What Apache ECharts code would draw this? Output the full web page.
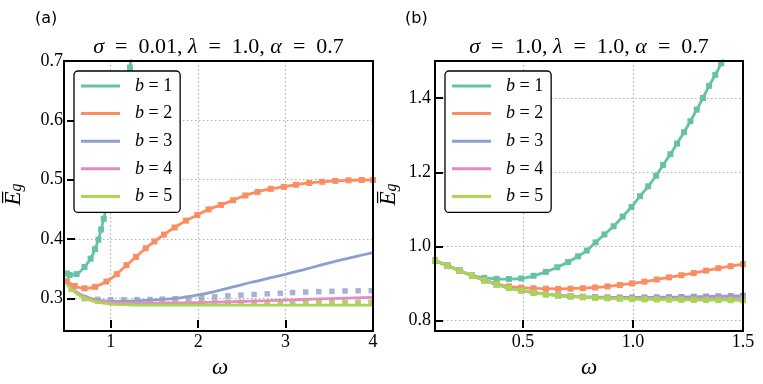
<!DOCTYPE html>
<html>
<head>
<meta charset="utf-8">
<script src="https://cdn.jsdelivr.net/npm/echarts@6/dist/echarts.min.js"></script>
<style>
    html, body {margin: 0; background: #fff;}
    #chart {width: 763px; height: 384px;}
</style>
</head>
<body>
<div id="chart"></div>
<script>
/*panel (a): sigma = 0.01, theory curves on a common omega grid*/
let omegaA = [0.5, 0.55, 0.6, 0.65, 0.7, 0.8, 0.9, 1.0, 1.2, 1.4, 1.6, 1.8, 2.0, 2.2, 2.4, 2.6, 2.8, 3.0, 3.2, 3.4, 3.6, 3.8, 4.0];
let b3LineA = [0.326, 0.3185, 0.312, 0.307, 0.3035, 0.299, 0.2963, 0.2950, 0.2955, 0.2968, 0.2985, 0.3010, 0.3058, 0.3120, 0.3193, 0.3268, 0.3337, 0.3405, 0.3482, 0.3560, 0.3635, 0.3705, 0.3772];
let b4LineA = [0.325, 0.3175, 0.311, 0.306, 0.3025, 0.2975, 0.2948, 0.2935, 0.2925, 0.2922, 0.2923, 0.2925, 0.2929, 0.2936, 0.2944, 0.2953, 0.2962, 0.2972, 0.2982, 0.2992, 0.3002, 0.3010, 0.3017];
let b5LineA = [0.323, 0.316, 0.3095, 0.3045, 0.301, 0.2955, 0.2925, 0.2905, 0.2893, 0.2888, 0.2886, 0.2886, 0.2886, 0.2886, 0.2886, 0.2886, 0.2886, 0.2886, 0.2886, 0.2886, 0.2886, 0.2886, 0.2886];

/*panel (a): simulation markers*/
let markOmegaA = [0.55, 0.70, 0.85, 1.00, 1.15, 1.30, 1.45, 1.59, 1.74, 1.89, 2.04, 2.19, 2.34, 2.49, 2.64, 2.79, 2.94, 3.08, 3.23, 3.38, 3.53, 3.68, 3.83, 3.98];
let b3SimA = [0.317, 0.3015, 0.2985, 0.2978, 0.2978, 0.2980, 0.2983, 0.2988, 0.2995, 0.3003, 0.3015, 0.3028, 0.3043, 0.3055, 0.3067, 0.3078, 0.3088, 0.3098, 0.3107, 0.3114, 0.3120, 0.3125, 0.3128, 0.3130];
let b4SimA = [0.316, 0.300, 0.2955, 0.2942, 0.2937, 0.2935, 0.2935, 0.2935, 0.2935, 0.2935, 0.2935, 0.2935, 0.2935, 0.2935, 0.2935, 0.2935, 0.2935, 0.2935, 0.2935, 0.2935, 0.2935, 0.2935, 0.2935, 0.2935];
let b5SimA = [0.315, 0.2995, 0.295, 0.2938, 0.2934, 0.2932, 0.2932, 0.2932, 0.2932, 0.2932, 0.2932, 0.2932, 0.2932, 0.2932, 0.2932, 0.2932, 0.2932, 0.2932, 0.2932, 0.2932, 0.2932, 0.2932, 0.2932, 0.2932];

/*panel (a): b = 1, 2 (markers sit on the curve)*/
let b1OmegaA = [0.5, 0.53, 0.61, 0.70, 0.77, 0.82, 0.86, 0.89, 0.92, 0.945, 0.97, 0.995, 1.02, 1.045, 1.07, 1.095, 1.12, 1.145, 1.17, 1.195, 1.22, 1.245, 1.27];
let b1A = [0.342, 0.3395, 0.341, 0.353, 0.367, 0.383, 0.399, 0.416, 0.434, 0.450, 0.467, 0.485, 0.503, 0.523, 0.544, 0.566, 0.589, 0.613, 0.638, 0.663, 0.689, 0.716, 0.744];
let b2OmegaA = [0.5, 0.59, 0.70, 0.82, 0.95, 1.07, 1.18, 1.29, 1.40, 1.50, 1.61, 1.73, 1.86, 1.99, 2.12, 2.26, 2.40, 2.54, 2.68, 2.83, 2.98, 3.12, 3.27, 3.42, 3.57, 3.72, 3.87, 4.0];
let b2A = [0.329, 0.321, 0.317, 0.3195, 0.3285, 0.341, 0.356, 0.370, 0.3845, 0.396, 0.4075, 0.4195, 0.431, 0.4405, 0.450, 0.4575, 0.4655, 0.4735, 0.4795, 0.4845, 0.488, 0.4915, 0.4945, 0.4965, 0.498, 0.499, 0.4995, 0.4995];

/*panel (b): sigma = 1.0*/
let omegaB = [0.100, 0.156, 0.212, 0.268, 0.324, 0.380, 0.436, 0.492, 0.548, 0.604, 0.660, 0.716, 0.772, 0.828, 0.884, 0.940, 0.996, 1.052, 1.108, 1.164, 1.220, 1.276, 1.332, 1.388, 1.444, 1.500];
let b2B = [0.962, 0.9485, 0.935, 0.9215, 0.9095, 0.8995, 0.8925, 0.889, 0.8875, 0.8862, 0.8858, 0.8862, 0.8875, 0.8895, 0.8925, 0.8963, 0.9005, 0.9052, 0.9110, 0.9168, 0.9225, 0.9285, 0.9350, 0.9415, 0.9470, 0.9525];
let b3B = [0.962, 0.9485, 0.935, 0.921, 0.9085, 0.8975, 0.888, 0.8817, 0.8760, 0.8716, 0.8685, 0.8663, 0.8647, 0.8636, 0.8629, 0.8626, 0.8625, 0.8627, 0.8630, 0.8635, 0.8640, 0.8645, 0.8651, 0.8657, 0.8663, 0.8670];
let b4B = [0.962, 0.9485, 0.935, 0.921, 0.9085, 0.8975, 0.888, 0.8815, 0.8755, 0.8710, 0.8678, 0.8655, 0.8637, 0.8622, 0.8610, 0.8602, 0.8597, 0.8593, 0.8591, 0.8590, 0.8590, 0.8590, 0.8590, 0.8591, 0.8592, 0.8594];
let b5B = [0.962, 0.9485, 0.935, 0.921, 0.9085, 0.8975, 0.888, 0.8815, 0.8755, 0.8708, 0.8675, 0.8650, 0.8630, 0.8613, 0.8600, 0.8590, 0.8582, 0.8575, 0.8570, 0.8565, 0.8561, 0.8558, 0.8555, 0.8553, 0.8551, 0.8550];
let b1OmegaB = [0.100, 0.156, 0.212, 0.268, 0.324, 0.380, 0.436, 0.492, 0.548, 0.604, 0.656, 0.705, 0.750, 0.790, 0.830, 0.870, 0.912, 0.953, 0.993, 1.032, 1.069, 1.105, 1.137, 1.170, 1.200, 1.232, 1.261, 1.290, 1.318, 1.346, 1.374, 1.401, 1.428];
let b1B = [0.962, 0.9485, 0.935, 0.922, 0.9155, 0.9128, 0.9122, 0.9138, 0.921, 0.9315, 0.944, 0.958, 0.9735, 0.989, 1.0112, 1.0325, 1.0545, 1.0805, 1.1065, 1.1355, 1.1623, 1.1907, 1.2200, 1.2487, 1.2773, 1.3080, 1.3377, 1.3690, 1.4003, 1.4330, 1.4626, 1.4938, 1.5250];

/*ticks*/
let xTicksA = [1, 2, 3, 4];
let yTicksA = [0.3, 0.4, 0.5, 0.6, 0.7];
let xTicksB = [0.5, 1.0, 1.5];
let yTicksB = [0.8, 1.0, 1.2, 1.4];

let names = ['b = 1', 'b = 2', 'b = 3', 'b = 4', 'b = 5'];
let colors = ['#66c2a5', '#fc8d62', '#8da0cb', '#e78ac3', '#a6d854'];

let serif = "'Liberation Serif', 'DejaVu Serif', serif";
let boxA = {left: 64, top: 61, width: 309, height: 270};
let boxB = {left: 435, top: 61, width: 308, height: 270};

let zip = (xs, ys) => xs.map((x, i) => [x, ys[i]]);

function axisX(grid, min, max, ticks, digits) {
    return {
        type: 'value', gridIndex: grid, min: min, max: max,
        axisLine: {show: false},
        axisTick: {show: true, inside: true, length: 8, customValues: ticks, lineStyle: {color: '#000', width: 2}},
        axisLabel: {customValues: ticks, margin: 5, color: '#000', fontFamily: serif, fontSize: 18,
            formatter: v => v.toFixed(digits)},
        splitLine: {show: true, lineStyle: {color: '#b0b0b0', width: 1.2, type: [1.5, 2.5]}},
        name: 'ω', nameLocation: 'middle', nameGap: 22,
        nameTextStyle: {fontFamily: serif, fontStyle: 'italic', fontSize: 23, color: '#000'}
    };
}

function axisY(grid, min, max, ticks, gap) {
    return {
        type: 'value', gridIndex: grid, min: min, max: max,
        axisLine: {show: false},
        axisTick: {show: true, inside: true, length: 8, customValues: ticks, lineStyle: {color: '#000', width: 2}},
        axisLabel: {customValues: ticks, margin: 4, color: '#000', fontFamily: serif, fontSize: 18,
            formatter: v => v.toFixed(1)},
        splitLine: {show: true, lineStyle: {color: '#b0b0b0', width: 1.2, type: [1.5, 2.5]}},
        name: '{e|E\u0305}{g|g}', nameLocation: 'middle', nameRotate: 90, nameGap: gap,
        nameTextStyle: {
            rich: {
                e: {fontFamily: serif, fontStyle: 'italic', fontSize: 23, color: '#000', lineHeight: 26, verticalAlign: 'bottom'},
                g: {fontFamily: serif, fontStyle: 'italic', fontSize: 16, color: '#000', lineHeight: 26, verticalAlign: 'bottom', padding: [8, 0, 0, 0]}
            }
        }
    };
}

function curve(i, grid, data, marks) {
    return {
        name: names[i], type: 'line', xAxisIndex: grid, yAxisIndex: grid,
        data: data, smooth: 0.35,
        showSymbol: marks, symbol: 'rect', symbolSize: 6,
        lineStyle: {color: colors[i], width: 2.8},
        itemStyle: {color: colors[i]},
        silent: true
    };
}

function sim(i, grid, data) {
    return {
        name: 'sim ' + names[i], type: 'scatter', xAxisIndex: grid, yAxisIndex: grid,
        data: data, symbol: 'rect', symbolSize: 5.5,
        itemStyle: {color: colors[i]},
        silent: true
    };
}

function legend(box) {
    return {
        data: names, left: box.left + 10, top: 71, orient: 'vertical',
        icon: 'rect', itemWidth: 39, itemHeight: 3, itemGap: 9.6,
        padding: [6, 8, 7, 7],
        backgroundColor: '#fff', borderColor: '#000', borderWidth: 1.3, borderRadius: 4,
        selectedMode: false,
        formatter: name => '{s|}{i|b} = ' + name.slice(-1),
        textStyle: {
            fontFamily: serif, fontSize: 18, color: '#000', lineHeight: 18,
            rich: {
                s: {width: 10},
                i: {fontFamily: serif, fontStyle: 'italic', fontSize: 18, lineHeight: 18}
            }
        }
    };
}

function heading(x, text) {
    return {
        type: 'text', x: x, y: 47.5,
        style: {
            text: text, textAlign: 'center', textVerticalAlign: 'middle',
            fontFamily: serif, fontSize: 22, fill: '#000',
            rich: {i: {fontFamily: serif, fontStyle: 'italic', fontSize: 22}}
        }
    };
}

function frame(box) {
    return {
        type: 'rect', z: 100,
        shape: {x: box.left, y: box.top, width: box.width, height: box.height},
        style: {fill: 'none', stroke: '#000', lineWidth: 2}
    };
}

let myChart = echarts.init(document.getElementById('chart'), null, {renderer: 'canvas'});

let option = {
    animation: false,
    backgroundColor: '#fff',
    grid: [
        Object.assign({}, boxA),
        Object.assign({}, boxB)
    ],
    xAxis: [axisX(0, 0.5, 4, xTicksA, 0), axisX(1, 0.1, 1.5, xTicksB, 1)],
    yAxis: [axisY(0, 0.25, 0.7, yTicksA, 42), axisY(1, 0.78, 1.5, yTicksB, 35)],
    legend: [legend(boxA), legend(boxB)],
    graphic: [
        {type: 'text', x: 35, y: 19, style: {text: '(a)', textVerticalAlign: 'middle', fontFamily: "'DejaVu Sans'", fontSize: 16, fill: '#000'}},
        {type: 'text', x: 405, y: 19, style: {text: '(b)', textVerticalAlign: 'middle', fontFamily: "'DejaVu Sans'", fontSize: 16, fill: '#000'}},
        heading(218.5, '{i|σ}\u2002=\u20020.01, {i|λ}\u2002=\u20021.0, {i|α}\u2002=\u20020.7'),
        heading(589, '{i|σ}\u2002=\u20021.0, {i|λ}\u2002=\u20021.0, {i|α}\u2002=\u20020.7'),
        frame(boxA),
        frame(boxB)
    ],
    series: [
        curve(0, 0, zip(b1OmegaA, b1A), true),
        curve(1, 0, zip(b2OmegaA, b2A), true),
        curve(2, 0, zip(omegaA, b3LineA), false),
        sim(2, 0, zip(markOmegaA, b3SimA)),
        curve(3, 0, zip(omegaA, b4LineA), false),
        sim(3, 0, zip(markOmegaA, b4SimA)),
        curve(4, 0, zip(omegaA, b5LineA), false),
        sim(4, 0, zip(markOmegaA, b5SimA)),

        curve(0, 1, zip(b1OmegaB, b1B), true),
        curve(1, 1, zip(omegaB, b2B), true),
        curve(2, 1, zip(omegaB, b3B), true),
        curve(3, 1, zip(omegaB, b4B), true),
        curve(4, 1, zip(omegaB, b5B), true)
    ]
};

myChart.setOption(option);
</script>
</body>
</html>
